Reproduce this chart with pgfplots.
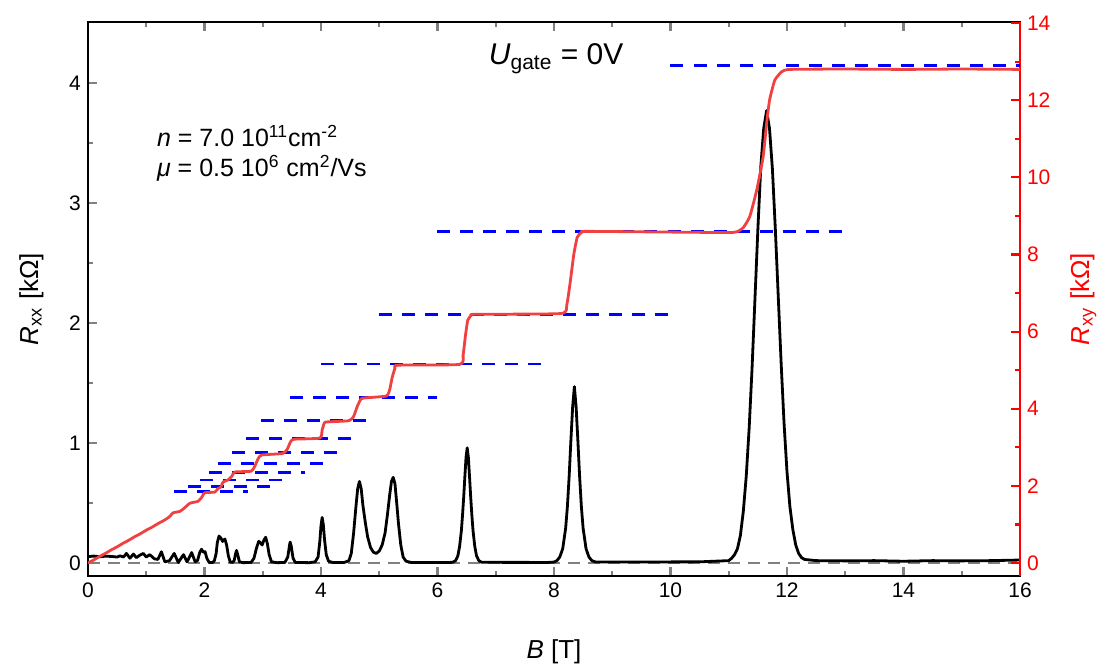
\documentclass[border=0pt]{standalone}
\usepackage{pgfplots}
\pgfplotsset{compat=1.18}
\usepackage{fontspec}
\setmainfont{Liberation Sans}
\definecolor{hallred}{RGB}{240,64,64}
\definecolor{zerogray}{RGB}{128,128,128}

\pgfplotsset{
  qhe/.style={
    scale only axis, width=466pt, height=277pt,
    xmin=0, xmax=16,
    tick align=inside,
    major tick length=4.5pt, minor tick length=2.5pt,
    every tick/.append style={line width=1.1pt},
    /pgf/number format/assume math mode=true,
    ticklabel style={font=\fontsize{10.5}{12}\selectfont},
    label style={font=\fontsize{13}{15}\selectfont},
  }
}

\begin{document}
\begin{tikzpicture}
\begin{axis}[qhe,
  ymin=-0.108, ymax=4.508,
  xtick={0,2,...,16}, ytick={0,1,2,3,4},
  minor x tick num=1, minor y tick num=1,
  xtick pos=both, ytick pos=left,
  axis line style={line width=1.3pt},
  xlabel={\textit{B} [T]},
  ylabel={\textit{R}\textsubscript{xx} [kΩ]},
  xlabel style={yshift=-14pt},
  ylabel style={yshift=6pt},
]
% zero line
\addplot[zerogray, line width=1pt, dash pattern=on 6pt off 4pt] coordinates {(0,0) (16,0)};
% R_xx
\addplot[black, line width=1.4pt, line join=round] coordinates {
(0,0.053) (0.1,0.058) (0.2,0.052) (0.3,0.057) (0.4,0.055) (0.5,0.05) (0.55,0.06)
(0.61,0.05) (0.66,0.08) (0.72,0.04) (0.78,0.075) (0.83,0.045) (0.89,0.065) (0.95,0.08)
(1.0,0.05) (1.06,0.07) (1.14,0.035) (1.2,0.03) (1.26,0.094) (1.32,0.01) (1.4,0.02)
(1.48,0.08) (1.55,0.005) (1.64,0.07) (1.70,0.01) (1.78,0.087) (1.84,0.01) (1.88,0.02)
(1.92,0.09) (1.95,0.115) (1.98,0.09) (2.01,0.095) (2.04,0.04) (2.08,0.005) (2.14,0.005)
(2.17,0.02) (2.20,0.08) (2.22,0.17) (2.25,0.225) (2.28,0.21) (2.31,0.18) (2.35,0.2)
(2.38,0.15) (2.41,0.06) (2.44,0.01) (2.48,0.005) (2.51,0.02) (2.53,0.07) (2.55,0.105)
(2.57,0.07) (2.60,0.01) (2.66,0.003) (2.80,0.005) (2.85,0.04) (2.89,0.12) (2.93,0.18)
(2.96,0.17) (2.99,0.15) (3.02,0.19) (3.05,0.215) (3.08,0.16) (3.11,0.07) (3.15,0.01)
(3.25,0.003) (3.38,0.005) (3.43,0.05) (3.46,0.15) (3.47,0.175) (3.49,0.14) (3.52,0.04)
(3.56,0.005) (3.8,0.003) (3.90,0.01) (3.95,0.05) (3.98,0.18) (4.00,0.31) (4.02,0.38)
(4.04,0.32) (4.06,0.2) (4.09,0.07) (4.13,0.015) (4.2,0.005) (4.40,0.005)
(4.48,0.02) (4.52,0.08) (4.56,0.25) (4.60,0.47) (4.63,0.62) (4.66,0.68) (4.69,0.62)
(4.72,0.48) (4.76,0.34) (4.80,0.22) (4.85,0.13) (4.90,0.09) (4.95,0.08) (5.00,0.10)
(5.05,0.15) (5.10,0.25) (5.14,0.40) (5.18,0.57) (5.21,0.68) (5.24,0.714) (5.27,0.66)
(5.30,0.50) (5.33,0.33) (5.37,0.15) (5.41,0.05) (5.46,0.015) (5.55,0.005) (6.2,0.005)
(6.26,0.006) (6.31,0.02) (6.35,0.06) (6.38,0.14) (6.41,0.27) (6.43,0.40) (6.45,0.55)
(6.47,0.72) (6.49,0.88) (6.51,0.96) (6.53,0.88) (6.55,0.72) (6.57,0.55) (6.59,0.40)
(6.61,0.27) (6.64,0.14) (6.67,0.06) (6.71,0.02) (6.76,0.006) (7.9,0.005)
(8.0,0.008) (8.05,0.02) (8.10,0.05) (8.15,0.12) (8.20,0.29) (8.23,0.47) (8.26,0.72)
(8.29,1.02) (8.32,1.30) (8.35,1.47) (8.38,1.30) (8.41,1.02) (8.44,0.72) (8.47,0.47)
(8.50,0.29) (8.55,0.12) (8.60,0.05) (8.65,0.02) (8.72,0.008) (10.5,0.01)
(11.0,0.02) (11.05,0.04) (11.1,0.07) (11.15,0.12) (11.2,0.23) (11.25,0.43) (11.3,0.72)
(11.35,1.12) (11.40,1.62) (11.45,2.2) (11.5,2.78) (11.55,3.3) (11.6,3.62) (11.65,3.77)
(11.7,3.62) (11.75,3.28) (11.8,2.78) (11.85,2.22) (11.9,1.66) (11.95,1.16) (12.0,0.76)
(12.05,0.47) (12.1,0.28) (12.15,0.15) (12.2,0.08) (12.25,0.045) (12.3,0.03) (12.5,0.02)
(13,0.018) (13.5,0.02) (14,0.015) (14.5,0.02) (15,0.018) (15.5,0.02) (16,0.025)
};
\node[anchor=base west, font=\fontsize{12.5}{15}\selectfont] at (axis cs:1.065,3.469)
  {\textit{n} = 7.0 10\textsuperscript{11}cm\textsuperscript{-2}};
\node[anchor=base west, font=\fontsize{12.5}{15}\selectfont] at (axis cs:1.065,3.219)
  {\textit{μ} = 0.5 10\textsuperscript{6} cm\textsuperscript{2}/Vs};
\node[anchor=base west, font=\fontsize{15}{18}\selectfont] at (axis cs:6.76,4.15)
  {\textit{U}\textsubscript{gate} = 0V};
\coordinate (bbll) at (rel axis cs:-0.0944,-0.1588);
\coordinate (bbur) at (rel axis cs:1.0912,1.0397);
\end{axis}

\begin{axis}[qhe,
  ymin=-0.337, ymax=14.03,
  axis x line=none, axis y line*=right,
  tick align=inside,
  ytick={0,2,...,14}, minor y tick num=1,
  y axis line style={red, line width=1.3pt},
  y tick style={red},
  yticklabel style={red},
  ylabel={\textit{R}\textsubscript{xy} [kΩ]},
  ylabel style={red, yshift=-3pt},
]
% Hall plateaus h/(nu e^2)
\pgfplotsset{plateau/.style={blue, line width=1.4pt, dash pattern=on 6.5pt off 5pt}}
\addplot[plateau] coordinates {(10,12.906) (16,12.906)};
\addplot[plateau] coordinates {(6,8.604) (13,8.604)};
\addplot[plateau] coordinates {(5,6.453) (10,6.453)};
\addplot[plateau] coordinates {(4,5.163) (7.9,5.163)};
\addplot[plateau] coordinates {(3.47,4.302) (6.0,4.302)};
\addplot[plateau] coordinates {(2.97,3.688) (4.83,3.688)};
\addplot[plateau] coordinates {(2.72,3.227) (4.58,3.227)};
\addplot[plateau] coordinates {(2.48,2.868) (4.30,2.868)};
\addplot[plateau] coordinates {(2.23,2.581) (4.08,2.581)};
\addplot[plateau] coordinates {(2.08,2.347) (3.73,2.347)};
\addplot[plateau] coordinates {(1.92,2.151) (3.37,2.151)};
\addplot[plateau] coordinates {(1.72,1.986) (3.14,1.986)};
\addplot[plateau] coordinates {(1.48,1.844) (2.74,1.844)};
% R_xy
\addplot[hallred, line width=1.4pt, line join=round, smooth, tension=0.3] coordinates {
(0,0) (0.1,0.08) (0.2,0.17) (0.3,0.25) (0.4,0.34) (0.5,0.42) (0.6,0.51) (0.7,0.59)
(0.8,0.68) (0.9,0.76) (1.0,0.85) (1.1,0.93) (1.2,1.02) (1.3,1.1) (1.4,1.2) (1.46,1.3)
(1.58,1.34) (1.65,1.42) (1.75,1.55) (1.89,1.6) (1.96,1.72) (2.0,1.82) (2.18,1.84)
(2.23,1.93) (2.28,1.97) (2.32,2.1) (2.4,2.15) (2.47,2.25) (2.52,2.36) (2.8,2.38)
(2.86,2.5) (2.92,2.7) (2.98,2.8) (3.34,2.84) (3.42,2.95) (3.48,3.15) (3.54,3.21)
(3.98,3.24) (4.02,3.45) (4.06,3.64) (4.12,3.66) (4.48,3.69) (4.56,3.8) (4.62,4.05)
(4.68,4.24) (4.74,4.28) (5.12,4.33) (5.18,4.5) (5.22,4.8) (5.27,5.05) (5.32,5.13)
(6.38,5.15) (6.44,5.4) (6.48,5.9) (6.52,6.3) (6.58,6.42) (6.65,6.45) (8.12,6.47)
(8.22,6.7) (8.28,7.3) (8.34,8.0) (8.4,8.45) (8.48,8.58) (8.6,8.6) (10.9,8.57)
(11.14,8.59) (11.25,8.7) (11.36,8.98) (11.48,9.67) (11.59,10.53) (11.65,11.4)
(11.7,12.0) (11.79,12.52) (11.91,12.74) (12.05,12.8) (13,12.81) (14,12.80) (15,12.81) (16,12.80)
};
\end{axis}
\pgfresetboundingbox
\path[use as bounding box] (bbll) rectangle (bbur);
\end{tikzpicture}
\end{document}
